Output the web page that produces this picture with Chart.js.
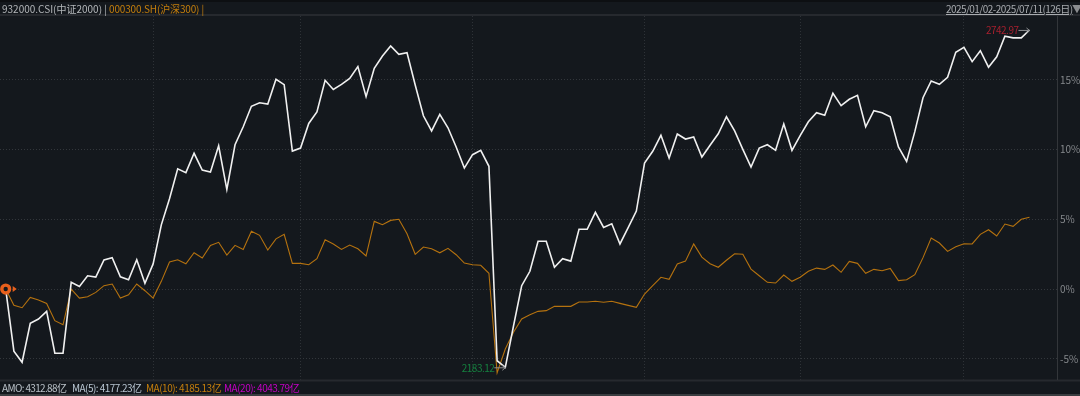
<!DOCTYPE html>
<html>
<head>
<meta charset="utf-8">
<script src="https://cdn.jsdelivr.net/npm/chart.js@4/dist/chart.umd.min.js"></script>
<style>
    html, body { margin: 0; padding: 0; background: #14181d; overflow: hidden; }
    #wrap { position: relative; width: 1080px; height: 396px; font-family: "Noto Sans CJK SC", "Noto Sans", sans-serif; font-size: 10px; }
    #wrap canvas { position: absolute; left: 0; top: 0; }
    .txt { position: absolute; white-space: pre; line-height: 14px; }
    .top-strip { position: absolute; left: 0; top: 0; width: 1080px; height: 2px; background: #0d0f12; }
    .bottom-strip { position: absolute; left: 0; top: 394px; width: 1080px; height: 2px; background: #3a3d40; }
</style>
</head>
<body>
<div id="wrap">
    <canvas id="chart" width="1080" height="396"></canvas>
    <div class="top-strip"></div>
    <div class="bottom-strip"></div>
    <span class="txt" style="left:2px;top:2px;color:#b4b7ba">932000.CSI(中证2000) |</span>
    <span class="txt" style="left:109px;top:2px;color:#c57f0c;letter-spacing:-0.15px">000300.SH(沪深300) |</span>
    <span class="txt" style="left:946px;top:2px;color:#a9acb0;text-decoration:underline;letter-spacing:-0.55px">2025/01/02-2025/07/11(126日)</span>
    <span class="txt" style="left:1072px;top:2px;color:#8a8c8f;font-size:10px">▼</span>
    <span class="txt" style="left:2px;top:381px;color:#b9c0c7;letter-spacing:-0.65px">AMO: 4312.88亿</span>
    <span class="txt" style="left:72px;top:381px;color:#b9c6d2;letter-spacing:-0.55px">MA(5): 4177.23亿</span>
    <span class="txt" style="left:146px;top:381px;color:#c57f0c;letter-spacing:-0.5px">MA(10): 4185.13亿</span>
    <span class="txt" style="left:224px;top:381px;color:#c400c4;letter-spacing:-0.5px">MA(20): 4043.79亿</span>
</div>
<script>
// % change since 2025/01/02, one value per trading day (126)
const csi2000 = [
    0, -4.45, -5.25, -2.46, -2.15, -1.6, -4.6, -4.6, 0.48, 0.19,
    0.95, 0.86, 2.08, 2.24, 0.88, 0.67, 2.1, 0.41, 1.8, 4.6,
    6.47, 8.62, 8.34, 9.73, 8.53, 8.39, 10.27, 7.15, 10.34, 11.63,
    13.1, 13.35, 13.26, 15.03, 14.65, 9.89, 10.1, 11.87, 12.7, 14.96,
    14.3, 14.67, 15.1, 15.94, 13.79, 15.82, 16.7, 17.42, 16.82, 16.94,
    14.62, 12.42, 11.33, 12.52, 11.56, 10.18, 8.67, 9.63, 9.94, 8.8,
    -5.14, -5.61, -2.65, 0.24, 1.27, 3.42, 3.42, 1.56, 2.17, 2.0,
    4.28, 4.28, 5.5, 4.42, 4.68, 3.23, 4.4, 5.59, 9.03, 9.87,
    11.02, 9.39, 11.11, 10.75, 10.9, 9.46, 10.3, 11.13, 12.35, 11.33,
    10.01, 8.74, 10.1, 10.34, 9.94, 11.83, 9.94, 11.0, 11.99, 12.64,
    12.45, 14.03, 13.14, 13.6, 13.88, 11.63, 12.78, 12.64, 12.35, 10.18,
    9.15, 11.28, 13.71, 14.91, 14.67, 15.18, 16.97, 17.33, 16.3, 17.08,
    15.9, 16.65, 18.12, 18.0, 18.0, 18.57,
];
const hs300 = [
    0, -1.17, -1.34, -0.6, -0.79, -1.03, -2.27, -2.56, 0, -0.65,
    -0.55, -0.24, 0.24, 0.36, -0.65, -0.41, 0.36, -0.12, -0.65, 0.55,
    1.94, 2.1, 1.81, 2.6, 2.22, 3.13, 3.35, 2.44, 3.13, 2.84,
    4.14, 3.85, 2.8, 3.6, 3.92, 1.84, 1.84, 1.74, 2.17, 3.53,
    3.23, 2.84, 3.15, 2.89, 2.37, 4.85, 4.61, 4.92, 5.0, 3.96,
    2.49, 3.01, 2.89, 2.6, 2.92, 2.46, 1.86, 1.74, 1.7, 1.13,
    -6.0, -4.3, -3.1, -2.15, -1.84, -1.6, -1.55, -1.24, -1.24, -1.24,
    -0.93, -0.93, -0.88, -0.95, -0.88, -1.03, -1.17, -1.31, -0.36, 0.24,
    0.84, 0.7, 1.79, 2.0, 3.23, 2.29, 1.81, 1.56, 2.06, 2.53,
    2.49, 1.43, 0.95, 0.48, 0.43, 1.0, 0.55, 0.84, 1.27, 1.5,
    1.41, 1.72, 1.2, 1.98, 1.84, 1.13, 1.41, 1.31, 1.48, 0.6,
    0.67, 1.03, 2.25, 3.66, 3.3, 2.7, 3.03, 3.25, 3.23, 3.92,
    4.25, 3.8, 4.66, 4.49, 5.0, 5.14,
];
const yTicks = [-5, 0, 5, 10, 15];
const monthStarts = [18, 36, 57, 78, 97, 117];
const highLabel = { index: 125, text: '2742.97', color: '#a8202e' };
const lowLabel = { index: 61, text: '2183.12', color: '#15803f' };

// min/max label next to its point, with the short grey pointer line
const extremeLabels = {
    id: 'extremeLabels',
    afterDatasetsDraw(chart) {
        const { ctx, scales: { x, y } } = chart;
        ctx.save();
        ctx.font = '10px "Noto Sans CJK SC", "Noto Sans", sans-serif';
        ctx.letterSpacing = '-0.5px';
        ctx.textAlign = 'right';
        ctx.textBaseline = 'middle';
        [highLabel, lowLabel].forEach(l => {
            const px = x.getPixelForValue(l.index);
            const py = y.getPixelForValue(csi2000[l.index]);
            ctx.strokeStyle = '#8d8f92';
            ctx.lineWidth = 1;
            ctx.beginPath();
            ctx.moveTo(px - 11, py + 0.5);
            ctx.lineTo(px, py + 0.5);
            ctx.moveTo(px - 3, py - 2);
            ctx.lineTo(px, py + 0.5);
            ctx.lineTo(px - 3, py + 3);
            ctx.stroke();
            ctx.fillStyle = l.color;
            ctx.fillText(l.text, px - 11, py + 0.5);
        });
        // start marker: ring plus small triangle, on the first point
        const sx = x.getPixelForValue(0);
        const sy = y.getPixelForValue(0);
        ctx.strokeStyle = '#e8601c';
        ctx.fillStyle = '#14181d';
        ctx.lineWidth = 3.4;
        ctx.beginPath();
        ctx.arc(sx, sy, 3.9, 0, Math.PI * 2);
        ctx.fill();
        ctx.stroke();
        ctx.fillStyle = '#e8601c';
        ctx.beginPath();
        ctx.moveTo(sx + 7, sy - 3);
        ctx.lineTo(sx + 11, sy);
        ctx.lineTo(sx + 7, sy + 3);
        ctx.closePath();
        ctx.fill();
        ctx.restore();
    },
};

// header and footer rules plus the right axis line
const frame = {
    id: 'frame',
    beforeDatasetsDraw(chart) {
        const { ctx, chartArea: a } = chart;
        ctx.save();
        ctx.strokeStyle = '#26292e';
        ctx.lineWidth = 2;
        ctx.beginPath();
        ctx.moveTo(0, a.top - 1);
        ctx.lineTo(1080, a.top - 1);
        ctx.moveTo(0, a.bottom + 0.5);
        ctx.lineTo(1080, a.bottom + 0.5);
        ctx.stroke();
        ctx.strokeStyle = '#33363a';
        ctx.lineWidth = 1;
        ctx.beginPath();
        ctx.moveTo(a.right + 0.5, a.top);
        ctx.lineTo(a.right + 0.5, a.bottom);
        ctx.stroke();
        ctx.restore();
    },
};

new Chart(document.getElementById('chart'), {
    type: 'line',
    data: {
        datasets: [
            {
                label: '932000.CSI',
                data: csi2000.map((v, i) => ({ x: i, y: v })),
                borderColor: '#f0f0f0',
                borderWidth: 1.6,
                tension: 0,
                pointRadius: 0,
            },
            {
                label: '000300.SH',
                data: hs300.map((v, i) => ({ x: i, y: v })),
                borderColor: '#b5720f',
                borderWidth: 1.1,
                tension: 0,
                pointRadius: 0,
            },
        ],
    },
    options: {
        responsive: false,
        animation: false,
        layout: { padding: { top: 16, bottom: 16, left: 0, right: 0 } },
        plugins: { legend: { display: false }, tooltip: { enabled: false } },
        scales: {
            x: {
                type: 'linear',
                min: -0.696,
                max: 128.36,
                afterBuildTicks: axis => { axis.ticks = monthStarts.map(v => ({ value: v })); },
                ticks: { display: false },
                border: { display: false, dash: [1, 2] },
                grid: { color: '#2e3237', drawTicks: false, lineWidth: 1 },
            },
            y: {
                position: 'right',
                min: -6.52,
                max: 19.57,
                afterBuildTicks: axis => { axis.ticks = yTicks.map(v => ({ value: v })); },
                afterFit: axis => { axis.width = 23; },
                ticks: {
                    color: '#85888c',
                    padding: 3,
                    font: { family: '"Noto Sans CJK SC", "Noto Sans", sans-serif', size: 10 },
                    callback: v => v + '%',
                },
                border: { display: false, dash: [1, 2] },
                grid: { color: '#33373c', drawTicks: false },
            },
        },
    },
    plugins: [frame, extremeLabels],
});
</script>
</body>
</html>
